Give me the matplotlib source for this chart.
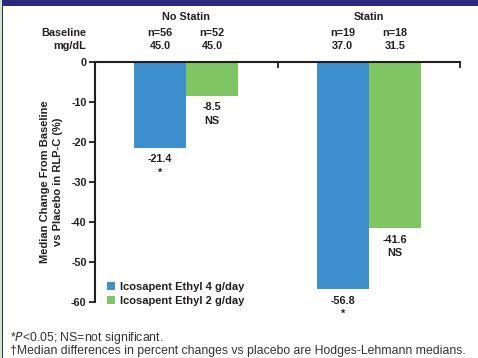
import matplotlib.pyplot as plt
import matplotlib.transforms as mtransforms
from matplotlib.patches import Rectangle, Patch
from matplotlib import font_manager

# RLP-C median change vs placebo, by statin use
groups = ["No Statin", "Statin"]
series = ["Icosapent Ethyl 4 g/day", "Icosapent Ethyl 2 g/day"]
n_counts = [[56, 19], [52, 18]]
baseline = [[45.0, 37.0], [45.0, 31.5]]
changes = [[-21.4, -56.8], [-8.5, -41.6]]
signif = [["*", "*"], ["NS", "NS"]]
y_ticks = [0, -10, -20, -30, -40, -50, -60]

BLUE = "#3e8fce"
GREEN = "#80c564"
NAVY = "#2c2a7c"
INK = "#231f20"

installed = {f.name for f in font_manager.fontManager.ttflist}
BOLD = ["Liberation Sans Narrow", "DejaVu Sans"] if "Liberation Sans Narrow" in installed else ["Liberation Sans", "DejaVu Sans"]
PLAIN = ["Liberation Sans", "DejaVu Sans"]
FS = 7.8

W, H = 478, 358
fig = plt.figure(figsize=(W / 100, H / 100), dpi=100)


def fy(py):
    return 1 - py / H


ax = fig.add_axes([95 / W, fy(302), (460 - 95) / W, (302 - 62) / H])

width = 0.285
offsets = [-width / 2, width / 2]
colors = [BLUE, GREEN]
for s in range(2):
    xs = [g + offsets[s] for g in range(len(groups))]
    ax.bar(xs, changes[s], width=width, color=colors[s], align="center", zorder=2)
    for g, x in enumerate(xs):
        v = changes[s][g]
        ax.text(x, v - 1.6, f"{v:.1f}", ha="center", va="top", fontsize=FS,
                fontweight="bold", family=BOLD, color=INK)
        ax.text(x, v - 5.0, signif[s][g], ha="center", va="top", fontsize=FS,
                fontweight="bold", family=BOLD, color=INK)

ax.set_xlim(-0.5, 1.5)
ax.set_ylim(-60, 0)
ax.set_yticks(y_ticks)
ax.set_yticklabels([str(t) for t in y_ticks], fontsize=FS, fontweight="bold",
                   family=BOLD, color=INK)
ax.xaxis.tick_top()
ax.set_xticks([0.5, 1.5])
ax.tick_params(axis="x", direction="in", length=4, width=1.3, labeltop=False, color=INK)
ax.tick_params(axis="y", direction="out", length=4, width=1.3, pad=2, color=INK)
for side in ["right", "bottom"]:
    ax.spines[side].set_visible(False)
for side in ["left", "top"]:
    ax.spines[side].set_linewidth(1.5)
    ax.spines[side].set_color(INK)
    ax.spines[side].set_zorder(3)

ax.set_ylabel("Median Change From Baseline\nvs Placebo in RLP-C (%)", fontsize=8.0,
              fontweight="bold", family=BOLD, color=INK, labelpad=6, linespacing=1.3)

# header rows above the axes: group names, n and baseline values
hdr = mtransforms.blended_transform_factory(ax.transData, fig.transFigure)
for g, name in enumerate(groups):
    ax.text(g, fy(17), name, transform=hdr, ha="center", va="center", fontsize=FS,
            fontweight="bold", family=BOLD, color=INK)
    for s in range(2):
        x = g + offsets[s]
        ax.text(x, fy(33), f"n={n_counts[s][g]}", transform=hdr, ha="center", va="center",
                fontsize=FS, fontweight="bold", family=BOLD, color=INK)
        ax.text(x, fy(46), f"{baseline[s][g]:.1f}", transform=hdr, ha="center", va="center",
                fontsize=FS, fontweight="bold", family=BOLD, color=INK)
fig.text(86 / W, fy(33), "Baseline", ha="right", va="center", fontsize=FS,
         fontweight="bold", family=BOLD, color=INK)
fig.text(86 / W, fy(46), "mg/dL", ha="right", va="center", fontsize=FS,
         fontweight="bold", family=BOLD, color=INK)

handles = [Patch(facecolor=c, edgecolor="none") for c in colors]
leg = ax.legend(handles, series, loc="lower left", bbox_to_anchor=(0.015, -0.045),
                frameon=False, handlelength=0.75, handleheight=0.75, handletextpad=0.4,
                labelspacing=0.4, borderaxespad=0.2,
                prop={"family": BOLD, "weight": "bold", "size": 8.0})
for t in leg.get_texts():
    t.set_color(INK)

fig.text(10 / W, fy(338), r"*$\it{P}$<0.05; NS=not significant.", ha="left", va="center",
         fontsize=8.8, family=PLAIN, color="#333333")
fig.text(10 / W, fy(351), "\u2020Median differences in percent changes vs placebo are Hodges-Lehmann medians.",
         ha="left", va="center", fontsize=8.8, family=PLAIN, color="#333333")

# frame: navy band on top, thin rules on the left edge
fig.add_artist(Rectangle((0, fy(6)), 1, 6 / H, transform=fig.transFigure,
                         facecolor=NAVY, edgecolor="none"))
fig.add_artist(Rectangle((0, 0), 2 / W, 1, transform=fig.transFigure,
                         facecolor="#cfe3cf", edgecolor="none"))
fig.add_artist(Rectangle((2 / W, 0), 1.3 / W, 1, transform=fig.transFigure,
                         facecolor=NAVY, edgecolor="none"))

fig.savefig("out.png", dpi=100)
